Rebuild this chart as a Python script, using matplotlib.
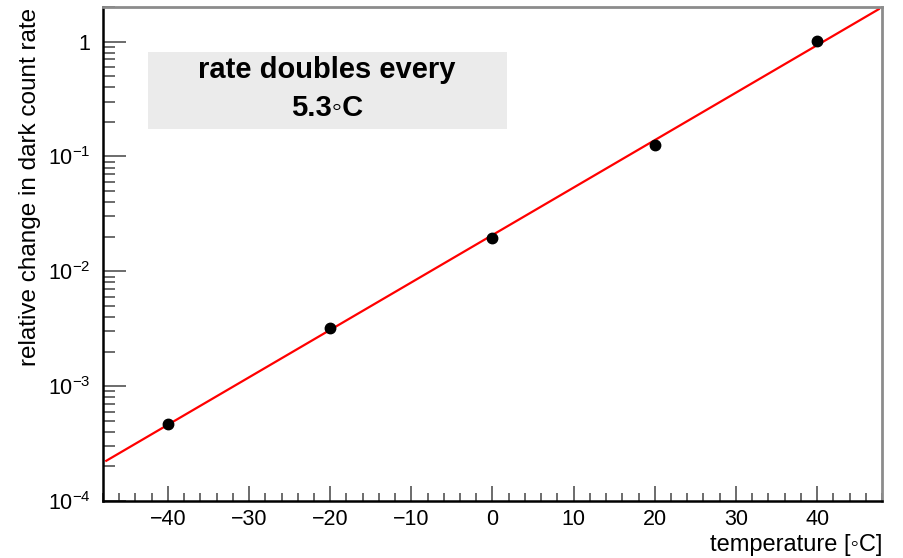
import numpy as np
import matplotlib
matplotlib.use("Agg")
import matplotlib.pyplot as plt
from matplotlib.ticker import MultipleLocator, LogLocator, FixedLocator, FuncFormatter
from matplotlib.patches import Rectangle

# measured relative dark count rate vs temperature
temperature = [-40, -20, 0, 20, 40]
rel_rate = [4.7e-4, 3.22e-3, 0.0196, 0.127, 1.01]

box_lines = ["rate doubles every", "5.3\u25e6C"]

plt.rcParams['font.family'] = ['Liberation Sans', 'DejaVu Sans']
plt.rcParams['mathtext.fontset'] = 'custom'
plt.rcParams['mathtext.rm'] = 'Liberation Sans'

fig = plt.figure(figsize=(9.04, 5.58), dpi=100)
ax = fig.add_axes([103/904, 1 - 501/558, 779/904, 494/558])

# exponential fit (straight line on log scale)
slope, icpt = np.polyfit(temperature, np.log10(rel_rate), 1)
xfit = np.linspace(-47.6, 47.6, 200)
ax.plot(xfit, 10 ** (icpt + slope * xfit), color='#ff0000', lw=1.6, zorder=2)
ax.plot(temperature, rel_rate, 'o', color='black', ms=7.5, zorder=3)

ax.set_yscale('log')
ax.set_xlim(-48, 48)
ax.set_ylim(1e-4, 2.0)

ax.xaxis.set_major_locator(MultipleLocator(10))
ax.xaxis.set_minor_locator(MultipleLocator(2))
ax.yaxis.set_major_locator(FixedLocator([1e-4, 1e-3, 1e-2, 1e-1, 1]))
ax.yaxis.set_minor_locator(LogLocator(base=10, subs=np.arange(2, 10)))


def ylab(v, pos):
    e = int(round(np.log10(v)))
    if e == 0:
        return "1"
    return r"$\mathregular{10^{%d}}$" % e


ax.yaxis.set_major_formatter(FuncFormatter(ylab))
ax.xaxis.set_major_formatter(FuncFormatter(lambda v, p: "%d" % v if v >= 0 else "\u2212%d" % -v))

ax.tick_params(axis='both', which='both', direction='in', top=False, right=False,
               color='#444444', width=1.1, labelsize=15.5)
ax.tick_params(axis='y', which='major', length=16.5, pad=9)
ax.tick_params(axis='y', which='minor', length=8.5)
ax.tick_params(axis='x', which='major', length=10.5, pad=6)
ax.tick_params(axis='x', which='minor', length=5.5)

for s in ['left', 'bottom']:
    ax.spines[s].set_color('black')
    ax.spines[s].set_linewidth(1.8)
for s in ['top', 'right']:
    ax.spines[s].set_color('#8c8c8c')
    ax.spines[s].set_linewidth(2.0)

ax.text(1.0, -0.089, "temperature [\u25e6C]", transform=ax.transAxes,
        ha='right', va='center', fontsize=17)
ax.text(-0.0937, 0.998, "relative change in dark count rate", transform=ax.transAxes,
        rotation=90, rotation_mode='anchor', ha='right', va='center', fontsize=17.5)

# annotation box
ax.add_patch(Rectangle((0.0578, 0.753), 0.4608, 0.156, transform=ax.transAxes,
                       facecolor='#ebebeb', edgecolor='none', zorder=1))
ax.text(0.2876, 0.872, box_lines[0], transform=ax.transAxes, ha='center', va='center',
        fontsize=21, fontweight='bold', zorder=4)
ax.text(0.2876, 0.7955, box_lines[1], transform=ax.transAxes, ha='center', va='center',
        fontsize=21, fontweight='bold', zorder=4)

fig.savefig("out.png", dpi=100)
